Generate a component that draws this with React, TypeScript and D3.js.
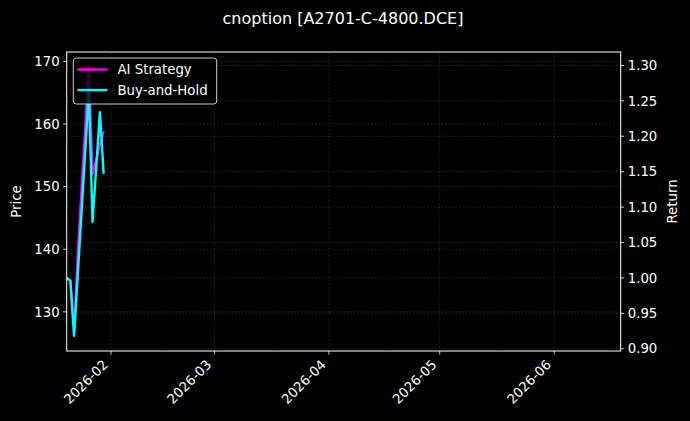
import React from 'react';
import * as d3 from 'd3';

// trading days shown in the chart
const dates = [
  '2026-01-20', '2026-01-21', '2026-01-22', '2026-01-23', '2026-01-26',
  '2026-01-27', '2026-01-28', '2026-01-29', '2026-01-30',
];
const aiStrategy = [1.0, 0.996, 0.925, 1.035, 1.3, 1.146, 1.167, 1.188, 1.207];
const buyAndHold = [1.0, 0.996, 0.918, 1.005, 1.264, 1.079, 1.156, 1.234, 1.147];

const priceTicks = [130, 140, 150, 160, 170];
const returnTicks = [0.9, 0.95, 1.0, 1.05, 1.1, 1.15, 1.2, 1.25, 1.3];
const dateTicks = ['2026-02-01', '2026-03-01', '2026-04-01', '2026-05-01', '2026-06-01'];

const W = 690;
const H = 421;
const margin = { top: 52, right: 69.3, bottom: 70, left: 66.7 };
const FONT = 'DejaVu Sans, sans-serif';

const App: React.FC = () => {
  const parse = d3.timeParse('%Y-%m-%d');
  const x = d3.scaleTime()
    .domain([parse('2026-01-20')!, parse('2026-06-19')!])
    .range([margin.left, W - margin.right]);
  const yPrice = d3.scaleLinear().domain([123.75, 171.5]).range([H - margin.bottom, margin.top]);
  const yRet = d3.scaleLinear().domain([0.8968, 1.319]).range([H - margin.bottom, margin.top]);

  const pts = dates.map(d => parse(d)!);
  const line = d3.line<number>()
    .x((_, i) => x(pts[i]))
    .y(d => yRet(d));

  const x0 = margin.left;
  const x1 = W - margin.right;
  const y0 = margin.top;
  const y1 = H - margin.bottom;
  const grid = { stroke: '#ffffff', strokeOpacity: 0.2, strokeWidth: 0.6, strokeDasharray: '2,1.5' };

  return (
    <div style={{ position: 'fixed', left: 0, top: 0 }}>
      <svg width={W} height={H} style={{ display: 'block', background: '#000' }} fontFamily={FONT}>
        <rect x={0} y={0} width={W} height={H} fill="#000" />
        <defs>
          <clipPath id="plot-clip">
            <rect x={x0} y={y0} width={x1 - x0} height={y1 - y0} />
          </clipPath>
        </defs>

        {/* grid */}
        {priceTicks.map(t => (
          <line key={'gp' + t} x1={x0} x2={x1} y1={yPrice(t)} y2={yPrice(t)} {...grid} />
        ))}
        {returnTicks.map(t => (
          <line key={'gr' + t} x1={x0} x2={x1} y1={yRet(t)} y2={yRet(t)} {...grid} />
        ))}
        {dateTicks.map(t => (
          <line key={'gd' + t} x1={x(parse(t)!)} x2={x(parse(t)!)} y1={y0} y2={y1} {...grid} />
        ))}

        {/* series */}
        <g clipPath="url(#plot-clip)">
          <path d={line(aiStrategy)!} fill="none" stroke="#ff00ff" strokeWidth={2.4} strokeLinejoin="round" />
          <path d={line(buyAndHold)!} fill="none" stroke="#00ffff" strokeWidth={2.4} strokeLinejoin="round" />
        </g>

        {/* frame */}
        <rect x={x0} y={y0} width={x1 - x0} height={y1 - y0} fill="none" stroke="#fff" strokeWidth={1} />

        {/* left axis */}
        {priceTicks.map(t => (
          <g key={'lp' + t} transform={`translate(${x0},${yPrice(t)})`}>
            <line x1={-3.5} x2={0} stroke="#fff" strokeWidth={0.8} />
            <text x={-7} dy="0.35em" textAnchor="end" fontSize={13.3} fill="#fff">{t}</text>
          </g>
        ))}
        {/* right axis */}
        {returnTicks.map(t => (
          <g key={'lr' + t} transform={`translate(${x1},${yRet(t)})`}>
            <line x1={0} x2={3.5} stroke="#fff" strokeWidth={0.8} />
            <text x={7} dy="0.35em" textAnchor="start" fontSize={13.3} fill="#fff">{t.toFixed(2)}</text>
          </g>
        ))}
        {/* bottom axis */}
        {dateTicks.map(t => {
          const xt = x(parse(t)!);
          return (
            <g key={'ld' + t}>
              <line x1={xt} x2={xt} y1={y1} y2={y1 + 3.5} stroke="#fff" strokeWidth={0.8} />
              <text transform={`translate(${xt - 2.3},${y1 + 14.5}) rotate(-45)`} textAnchor="end"
                fontSize={13.3} fill="#fff">{t.slice(0, 7)}</text>
            </g>
          );
        })}

        <text transform={`translate(21,${(y0 + y1) / 2}) rotate(-90)`} textAnchor="middle" fontSize={13.3} fill="#fff">Price</text>
        <text transform={`translate(677,${(y0 + y1) / 2}) rotate(-90)`} textAnchor="middle" fontSize={13.3} fill="#fff">Return</text>

        <text x={343} y={24} textAnchor="middle" fontSize={16} fill="#fff">cnoption [A2701-C-4800.DCE]</text>

        {/* legend */}
        <g>
          <rect x={73.3} y={58} width={143.4} height={46} rx={3} fill="#000" fillOpacity={0.8} stroke="#cccccc" strokeWidth={1} />
          <line x1={77.5} x2={107.5} y1={69.5} y2={69.5} stroke="#ff00ff" strokeWidth={2.4} />
          <text x={117.5} y={69.5} dy="0.35em" fontSize={13.3} fill="#fff">AI Strategy</text>
          <line x1={77.5} x2={107.5} y1={90} y2={90} stroke="#00ffff" strokeWidth={2.4} />
          <text x={117.5} y={90} dy="0.35em" fontSize={13.3} fill="#fff">Buy-and-Hold</text>
        </g>
      </svg>
    </div>
  );
};

export default App;
